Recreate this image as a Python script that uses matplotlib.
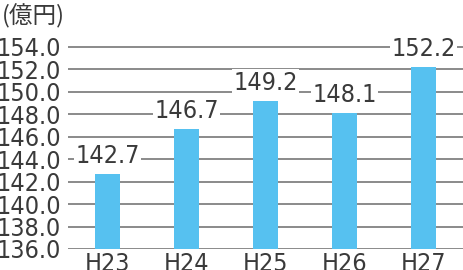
import matplotlib.pyplot as plt

# Data
years = ["H23", "H24", "H25", "H26", "H27"]
values = [142.7, 146.7, 149.2, 148.1, 152.2]
yticks = [136, 138, 140, 142, 144, 146, 148, 150, 152, 154]

plt.rcParams["font.family"] = ["DejaVu Sans", "Noto Sans CJK JP"]
plt.rcParams["font.stretch"] = "condensed"

txt_color = "#3a3a3a"
grid_color = "#8a8a8a"
bar_color = "#56c1f0"

W, H = 463, 270
fig = plt.figure(figsize=(W / 100, H / 100), dpi=100)
# axes: left at x=68, bottom at y=249 (136), 154 at y=47
y0_px, y1_px = 249, 47
ppu = (y0_px - y1_px) / (154 - 136)
top_val = 156.2
top_px = y0_px - (top_val - 136) * ppu
ax = fig.add_axes([68 / W, (H - y0_px) / H, 1 - 68 / W, (y0_px - top_px) / H])
ax.set_ylim(136, top_val)
ax.set_xlim(-0.5, 4.5)

for t in yticks:
    ax.axhline(t, color=grid_color, lw=1.4, zorder=1)

x = range(len(years))
ax.bar(x, values, width=0.31, color=bar_color, zorder=2)

for i, v in zip(x, values):
    ax.text(i, v + 0.55, f"{v:.1f}", ha="center", va="bottom", fontsize=18,
            color=txt_color, zorder=3,
            bbox=dict(boxstyle="square,pad=0.05", fc="white", ec="none"))

ax.set_xticks(list(x))
ax.set_xticklabels(years, fontsize=18, color=txt_color)
ax.set_yticks(yticks)
ax.set_yticklabels([f"{t:.1f}" for t in yticks], fontsize=18, color=txt_color)
ax.tick_params(length=0, pad=5)
ax.tick_params(axis="x", pad=2)
for s in ax.spines.values():
    s.set_visible(False)

fig.text(2 / W, 1 - 16 / H, "(億円)", fontsize=17, color=txt_color,
         va="center", ha="left", family=["Noto Sans CJK JP", "DejaVu Sans"])

fig.savefig("out.png", dpi=100)
